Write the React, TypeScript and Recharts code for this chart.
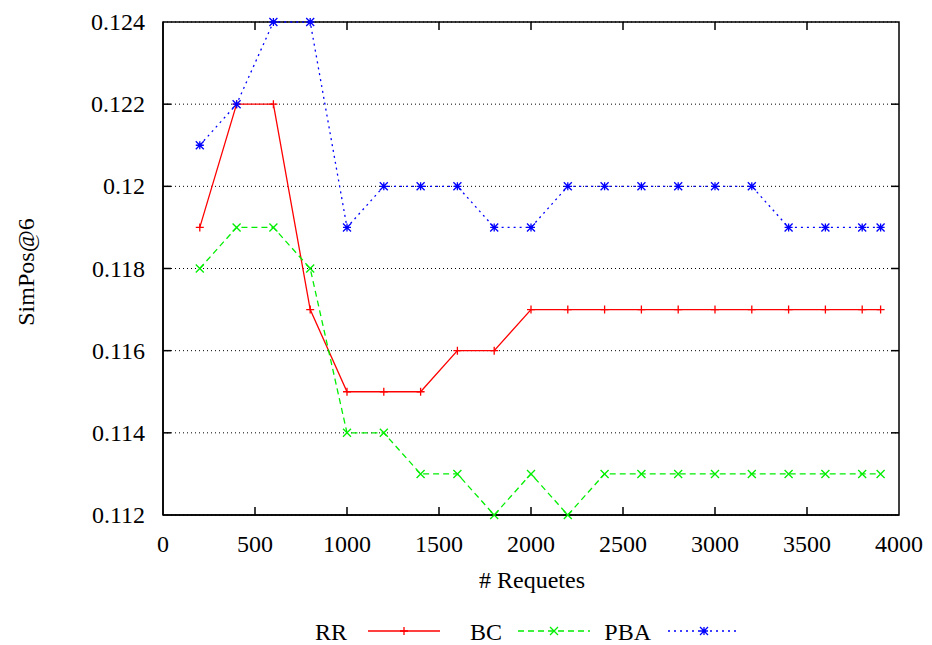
import React from "react";
import {
  LineChart,
  Line,
  XAxis,
  YAxis,
  CartesianGrid,
  Customized,
} from "recharts";

const FONT = "'Liberation Serif', 'Times New Roman', Times, serif";
const TXT = { fontFamily: FONT, fontSize: 24 };

const REQUESTS = [
  200, 400, 600, 800, 1000, 1200, 1400, 1600, 1800, 2000, 2200, 2400, 2600,
  2800, 3000, 3200, 3400, 3600, 3800, 3900,
];
const RR = [
  0.119, 0.122, 0.122, 0.117, 0.115, 0.115, 0.115, 0.116, 0.116, 0.117, 0.117,
  0.117, 0.117, 0.117, 0.117, 0.117, 0.117, 0.117, 0.117, 0.117,
];
const BC = [
  0.118, 0.119, 0.119, 0.118, 0.114, 0.114, 0.113, 0.113, 0.112, 0.113, 0.112,
  0.113, 0.113, 0.113, 0.113, 0.113, 0.113, 0.113, 0.113, 0.113,
];
const PBA = [
  0.121, 0.122, 0.124, 0.124, 0.119, 0.12, 0.12, 0.12, 0.119, 0.119, 0.12,
  0.12, 0.12, 0.12, 0.12, 0.12, 0.119, 0.119, 0.119, 0.119,
];
const X_TICKS = [0, 500, 1000, 1500, 2000, 2500, 3000, 3500, 4000];
const Y_TICKS = [0.112, 0.114, 0.116, 0.118, 0.12, 0.122, 0.124];
const Y_LABELS = ["0.112", "0.114", "0.116", "0.118", "0.12", "0.122", "0.124"];

const X_MIN = 0;
const X_MAX = 4000;
const Y_MIN = 0.112;
const Y_MAX = 0.124;

// layout
const W = 932;
const H = 645;
const MARGIN = { top: 22, right: 33, bottom: 0, left: 0 };
const Y_AXIS_W = 163;
const X_AXIS_H = 130;
const PLOT = {
  left: MARGIN.left + Y_AXIS_W,
  right: W - MARGIN.right,
  top: MARGIN.top,
  bottom: H - MARGIN.bottom - X_AXIS_H,
};
const TICK = 8;

const RED = "#ff0000";
const GREEN = "#00ee00";
const BLUE = "#0000ff";

const data = REQUESTS.map((x, i) => ({ x, rr: RR[i], bc: BC[i], pba: PBA[i] }));

type Mark = "plus" | "cross" | "star";

const markerPath = (kind: Mark, cx: number, cy: number) => {
  const s = 4;
  const plus = `M${cx - s},${cy}h${2 * s}M${cx},${cy - s}v${2 * s}`;
  const cross = `M${cx - s},${cy - s}l${2 * s},${2 * s}M${cx - s},${cy + s}l${2 * s},${-2 * s}`;
  if (kind === "plus") return plus;
  if (kind === "cross") return cross;
  return plus + cross;
};

const makeDot = (kind: Mark, color: string) => (props: any) => {
  const { cx, cy, index } = props;
  if (cx == null || cy == null) return <g key={`d-${kind}-${index}`} />;
  return (
    <path
      key={`d-${kind}-${index}`}
      d={markerPath(kind, cx, cy)}
      stroke={color}
      strokeWidth={1.3}
      fill="none"
    />
  );
};

const BottomTick = (props: any) => {
  const { x, y, payload } = props;
  return (
    <text x={x} y={y + 37} textAnchor="middle" style={TXT} fill="#000">
      {payload.value}
    </text>
  );
};

const LeftTick = (props: any) => {
  const { x, y, payload } = props;
  const i = Y_TICKS.indexOf(payload.value);
  return (
    <text x={x - 18} y={y + 8} textAnchor="end" style={TXT} fill="#000">
      {i >= 0 ? Y_LABELS[i] : payload.value}
    </text>
  );
};

const LEGEND = [
  { name: "RR", color: RED, dash: undefined, kind: "plus" as Mark, tx: 347, lx: 368 },
  { name: "BC", color: GREEN, dash: "6 4", kind: "cross" as Mark, tx: 502, lx: 518 },
  { name: "PBA", color: BLUE, dash: "2 4", kind: "star" as Mark, tx: 651, lx: 668 },
];

const px = (v: number) =>
  PLOT.left + ((v - X_MIN) / (X_MAX - X_MIN)) * (PLOT.right - PLOT.left);
const py = (v: number) =>
  PLOT.bottom - ((v - Y_MIN) / (Y_MAX - Y_MIN)) * (PLOT.bottom - PLOT.top);

const Extras = () => (
  <g>
    {/* gnuplot frame with inward ticks on all four sides */}
    <rect
      x={PLOT.left}
      y={PLOT.top}
      width={PLOT.right - PLOT.left}
      height={PLOT.bottom - PLOT.top}
      fill="none"
      stroke="#000"
      strokeWidth={1.5}
    />
    {X_TICKS.slice(1, -1).map((t) => (
      <g key={`xt-${t}`} stroke="#000" strokeWidth={1.5}>
        <line x1={px(t)} x2={px(t)} y1={PLOT.bottom} y2={PLOT.bottom - TICK} />
        <line x1={px(t)} x2={px(t)} y1={PLOT.top} y2={PLOT.top + TICK} />
      </g>
    ))}
    {Y_TICKS.slice(1, -1).map((t) => (
      <g key={`yt-${t}`} stroke="#000" strokeWidth={1.5}>
        <line x1={PLOT.left} x2={PLOT.left + TICK} y1={py(t)} y2={py(t)} />
        <line x1={PLOT.right} x2={PLOT.right - TICK} y1={py(t)} y2={py(t)} />
      </g>
    ))}
    <text
      x={0}
      y={0}
      transform="translate(34,272) rotate(-90)"
      textAnchor="middle"
      style={TXT}
      fill="#000"
    >
      SimPos@6
    </text>
    <text x={532} y={588} textAnchor="middle" style={TXT} fill="#000">
      # Requetes
    </text>
    {LEGEND.map((l) => (
      <g key={l.name}>
        <text x={l.tx} y={640} textAnchor="end" style={TXT} fill="#000">
          {l.name}
        </text>
        <line
          x1={l.lx}
          x2={l.lx + 72}
          y1={631}
          y2={631}
          stroke={l.color}
          strokeWidth={1.3}
          strokeDasharray={l.dash}
        />
        <path
          d={markerPath(l.kind, l.lx + 36, 631)}
          stroke={l.color}
          strokeWidth={1.3}
          fill="none"
        />
      </g>
    ))}
  </g>
);

const AXIS_LINE = { stroke: "#000", strokeWidth: 1.5 };

export default function App() {
  return (
    <div
      style={{
        position: "absolute",
        left: 0,
        top: 0,
        background: "#fff",
        fontFamily: FONT,
      }}
    >
      <LineChart width={W} height={H} data={data} margin={MARGIN}>
        <CartesianGrid
          horizontal
          vertical={false}
          stroke="#000"
          strokeDasharray="1 3"
        />
        <XAxis
          dataKey="x"
          type="number"
          domain={[X_MIN, X_MAX]}
          ticks={X_TICKS}
          height={X_AXIS_H}
          tick={<BottomTick />}
          tickSize={0}
          tickMargin={0}
          tickLine={false}
          axisLine={AXIS_LINE}
        />
        <YAxis
          type="number"
          domain={[Y_MIN, Y_MAX]}
          ticks={Y_TICKS}
          width={Y_AXIS_W}
          tick={<LeftTick />}
          tickSize={0}
          tickMargin={0}
          tickLine={false}
          axisLine={AXIS_LINE}
        />
        <Line
          dataKey="rr"
          stroke={RED}
          strokeWidth={1.3}
          dot={makeDot("plus", RED)}
          activeDot={false}
          isAnimationActive={false}
        />
        <Line
          dataKey="bc"
          stroke={GREEN}
          strokeWidth={1.3}
          strokeDasharray="6 4"
          dot={makeDot("cross", GREEN)}
          activeDot={false}
          isAnimationActive={false}
        />
        <Line
          dataKey="pba"
          stroke={BLUE}
          strokeWidth={1.3}
          strokeDasharray="2 4"
          dot={makeDot("star", BLUE)}
          activeDot={false}
          isAnimationActive={false}
        />
        <Customized component={Extras} />
      </LineChart>
    </div>
  );
}
